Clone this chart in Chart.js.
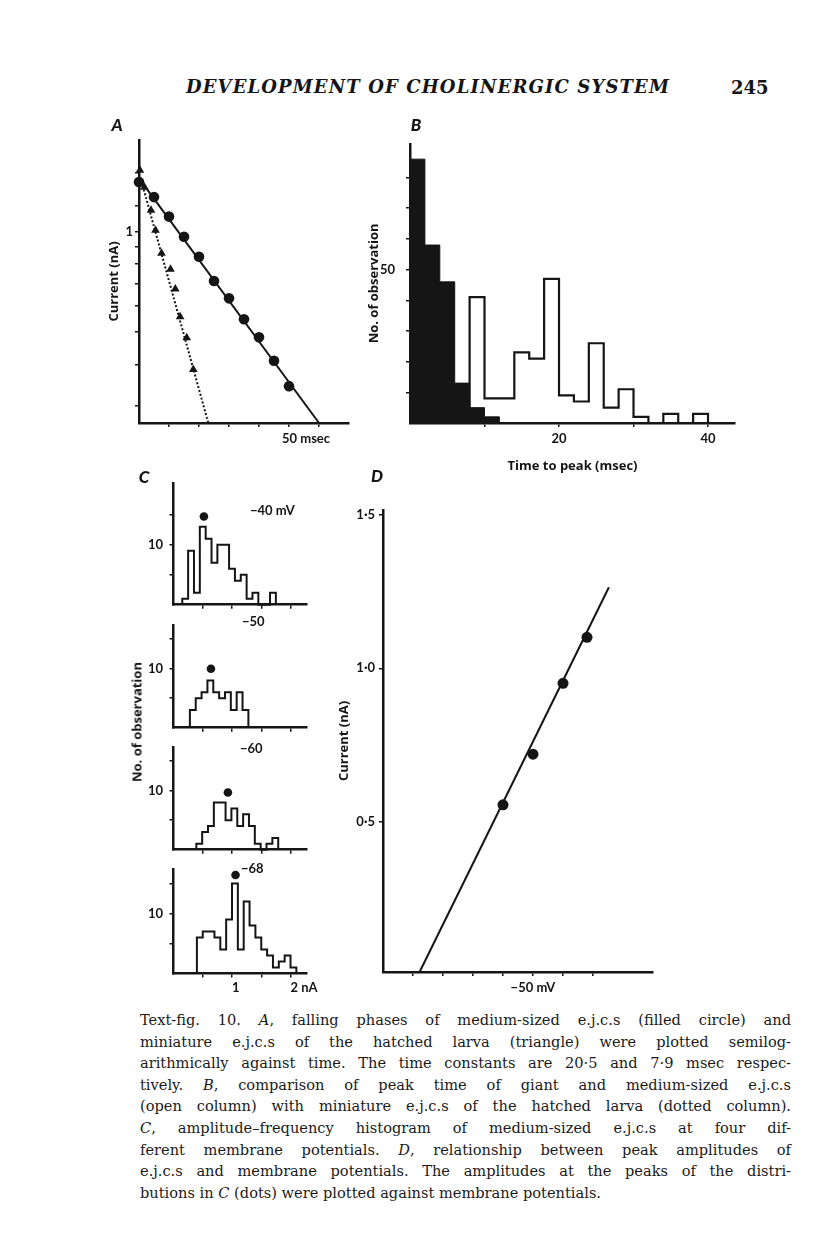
<!DOCTYPE html>
<html>
<head>
<meta charset="utf-8">
<title>Development of cholinergic system – Text-fig. 10</title>
<script src="https://cdn.jsdelivr.net/npm/chart.js@4.4.1/dist/chart.umd.min.js"></script>
<style>
  html, body { margin: 0; padding: 0; background: #fff; }
  #page { position: relative; width: 816px; height: 1238px; overflow: hidden; background: #fff; color: #151515; }
  #page canvas { position: absolute; }
  .txt { position: absolute; white-space: nowrap; line-height: 1; transform: translateY(-50%); }
  .mid { transform: translate(-50%, -50%); }
  .head { font-family: "DejaVu Serif", serif; font-style: italic; font-weight: 700; font-size: 18px; }
  .folio { font-family: "DejaVu Serif", serif; font-weight: 700; font-size: 18px; }
  .panel { font-family: Lato, sans-serif; font-style: italic; font-weight: 900; font-size: 17px; }
  .sans { font-family: Lato, sans-serif; font-weight: 700; font-size: 13px; }
  .title { font-family: "Open Sans", sans-serif; font-weight: 700; font-size: 13px; }
  .rot { transform: translate(-50%, -50%) rotate(-90deg); }
  #caption { position: absolute; left: 140px; top: 1009px; width: 651px; font-family: "DejaVu Serif", serif; font-size: 14.6px; line-height: 21.6px; color: #1a1a1a; }
  #caption div { text-align: justify; text-align-last: justify; }
  #caption div.last { text-align-last: left; }
</style>
</head>
<body>
<div id="page">
  <canvas id="chartA"></canvas>
  <canvas id="chartB"></canvas>
  <canvas id="chartC0"></canvas>
  <canvas id="chartC1"></canvas>
  <canvas id="chartC2"></canvas>
  <canvas id="chartC3"></canvas>
  <canvas id="chartD"></canvas>

  <div class="txt head" id="runhead" style="left:186px;top:87px">DEVELOPMENT OF CHOLINERGIC SYSTEM</div>
  <div class="txt folio" style="left:731px;top:88px">245</div>
  <div class="txt panel mid" style="left:117px;top:124px">A</div>
  <div class="txt panel mid" style="left:416px;top:124px">B</div>
  <div class="txt panel mid" style="left:144px;top:476px">C</div>
  <div class="txt panel mid" style="left:377px;top:475px">D</div>
  <div class="txt title rot" style="left:137px;top:722px">No. of observation</div>

  <div id="caption">
    <div>Text-fig. 10. <i>A</i>, falling phases of medium-sized e.j.c.s (filled circle) and</div>
    <div>miniature e.j.c.s of the hatched larva (triangle) were plotted semilog-</div>
    <div>arithmically against time. The time constants are 20·5 and 7·9 msec respec-</div>
    <div>tively. <i>B</i>, comparison of peak time of giant and medium-sized e.j.c.s</div>
    <div>(open column) with miniature e.j.c.s of the hatched larva (dotted column).</div>
    <div><i>C</i>, amplitude–frequency histogram of medium-sized e.j.c.s at four dif-</div>
    <div>ferent membrane potentials. <i>D</i>, relationship between peak amplitudes of</div>
    <div>e.j.c.s and membrane potentials. The amplitudes at the peaks of the distri-</div>
    <div class="last">butions in <i>C</i> (dots) were plotted against membrane potentials.</div>
  </div>
</div>

<script>
// ---- values ----

// A: falling phases, current (nA, log axis) against time (msec)
const aCircleTime = [0, 5, 10, 15, 20, 25, 30, 35, 40, 45, 50];
const aCircleCurrent = [1.41, 1.27, 1.11, 0.966, 0.841, 0.711, 0.631, 0.546, 0.482, 0.41, 0.344];
const aTriangleTime = [0.3, 1.8, 4.0, 5.5, 7.5, 10.5, 12.1, 13.7, 15.9, 18.1];
const aTriangleCurrent = [1.53, 1.36, 1.16, 1.01, 0.861, 0.771, 0.673, 0.556, 0.481, 0.386];
const aSolidFitTime = [0, 60];
const aSolidFitCurrent = [1.445, 0.2667];
const aDottedFitTime = [0.5, 23.1];
const aDottedFitCurrent = [1.45, 0.2667];
const aTimeTicks = [10, 20, 30, 40, 50, 60];
const aCurrentTicks = [0.3, 0.4, 0.5, 0.6, 0.7, 0.8, 0.9, 1, 1.2, 1.5];

// B: time to peak histograms, 2 msec bins
const bBinWidth = 2;
const bMiniatureStart = 0;
const bMiniatureCounts = [86, 58, 46, 13, 5, 2];
const bOpenStart = 8;
const bOpenCounts = [41, 8, 8, 23, 21, 47, 9, 7, 26, 5, 11, 2, 0, 3, 0, 3];
const bTimeTicks = [10, 20, 30, 40];
const bCountTicks = [10, 20, 30, 40, 50, 60, 70, 80];

// C: amplitude histograms at four membrane potentials, 0.1 nA bins
const cBinWidth = 0.1;
const cStarts = [0.15, 0.28, 0.39, 0.4];
const cCounts40 = [1, 9, 2, 13, 11, 7, 10, 10, 6, 4, 5, 1, 2, 0, 0, 2];
const cCounts50 = [3, 5, 6, 8, 6, 5, 6, 3, 6, 3];
const cCounts60 = [1, 3, 4, 8, 8, 5, 7, 4, 6, 4, 1, 0, 1, 2];
const cCounts68 = [6, 7, 7, 6, 4, 9, 15, 4, 12, 8, 6, 4, 3, 1, 2, 3, 1];
const cPeakAmplitude = [0.52, 0.64, 0.93, 1.06];
const cPeakCount = [14.7, 10, 9.7, 16.4];
const cPotentialLabels = ['−40 mV', '−50', '−60', '−68'];
const cAmpTicks = [0.5, 1, 1.5, 2];
const cCountTicks = [5, 10, 15];

// D: peak amplitude against membrane potential
const dPotential = [-40, -50, -60, -68];
const dCurrent = [0.555, 0.72, 0.951, 1.101];
const dFitPotential = [-12.2, -75.3];
const dFitCurrent = [0.01, 1.264];
const dPotentialTicks = [-10, -20, -30, -40, -50, -60, -70];
const dCurrentTicks = [0.5, 1, 1.5];

// ---- drawing ----
const INK = '#151515';
const TITLE_FONT = { family: '"Open Sans", sans-serif', size: 13, weight: 'bold' };

Chart.defaults.font.family = 'Lato, "DejaVu Sans", sans-serif';
Chart.defaults.font.size = 13;
Chart.defaults.font.weight = 'bold';
Chart.defaults.color = INK;

function place(id, left, top, width, height) {
  const canvas = document.getElementById(id);
  canvas.width = width;
  canvas.height = height;
  canvas.style.left = left + 'px';
  canvas.style.top = top + 'px';
  return canvas;
}

function points(xs, ys) {
  return xs.map(function (x, i) { return { x: x, y: ys[i] }; });
}

// outline of a histogram, values sit on the left edge of each bin
function steps(start, width, counts) {
  const pts = [{ x: start, y: 0 }];
  counts.forEach(function (n, i) { pts.push({ x: start + i * width, y: n }); });
  pts.push({ x: start + counts.length * width, y: 0 });
  return pts;
}

function pinTicks(values) {
  return function (scale) { scale.ticks = values.map(function (v) { return { value: v }; }); };
}
function labelFrom(map) {
  return function (value) { return map[value] === undefined ? '' : map[value]; };
}
function boxSize(size) {
  return function (scale) {
    if (scale.isHorizontal()) { scale.height = size; } else { scale.width = size; }
  };
}

function axis(o) {
  return {
    type: o.type || 'linear',
    min: o.min,
    max: o.max,
    reverse: !!o.reverse,
    afterFit: boxSize(o.size),
    afterBuildTicks: pinTicks(o.ticks),
    border: { display: true, color: INK, width: 2.5 },
    grid: { display: true, drawOnChartArea: false, drawTicks: true, tickLength: 4, color: INK, lineWidth: 1.5 },
    ticks: {
      autoSkip: false, maxRotation: 0, padding: o.pad,
      align: o.align || 'center', labelOffset: o.offset || 0,
      callback: labelFrom(o.labels || {})
    },
    title: o.title
      ? { display: true, text: o.title, padding: o.titlePad, font: TITLE_FONT }
      : { display: false }
  };
}

function frame(pad) {
  return {
    responsive: false,
    animation: false,
    devicePixelRatio: 1,
    layout: { padding: pad },
    plugins: { legend: { display: false }, tooltip: { enabled: false } },
    scales: {}
  };
}

// A
const optA = frame({ top: 18, right: 16, bottom: 0, left: 0 });
optA.scales.x = axis({ min: 0, max: 70, size: 37, ticks: aTimeTicks, labels: { 50: '50 msec' }, pad: 4, align: 'start', offset: -7 });
optA.scales.y = axis({ type: 'logarithmic', min: 0.2667, max: 1.884, size: 44, ticks: aCurrentTicks, labels: { 1: '1' }, pad: 2,
  title: 'Current (nA)', titlePad: { top: 11, bottom: 0 } });
new Chart(place('chartA', 95, 122, 270, 338), {
  type: 'scatter',
  data: {
    datasets: [
      { data: points(aSolidFitTime, aSolidFitCurrent), showLine: true, borderColor: INK, borderWidth: 2, pointRadius: 0, clip: false },
      { data: points(aDottedFitTime, aDottedFitCurrent), showLine: true, borderColor: INK, borderWidth: 2, borderDash: [2, 2], pointRadius: 0, clip: false },
      { data: points(aCircleTime, aCircleCurrent), pointStyle: 'circle', pointRadius: 5.3, backgroundColor: INK, borderWidth: 0, clip: false },
      { data: points(aTriangleTime, aTriangleCurrent), pointStyle: 'triangle', pointRadius: 5, backgroundColor: INK, borderWidth: 0, clip: false }
    ]
  },
  options: optA
});

// B
const optB = frame({ top: 18, right: 20, bottom: 0, left: 0 });
optB.scales.x = axis({ min: 0, max: 43.62, size: 57, ticks: bTimeTicks, labels: { 20: '20', 40: '40' }, pad: 4,
  title: 'Time to peak (msec)', titlePad: { top: 0, bottom: 6.2 } });
optB.scales.y = axis({ min: 0, max: 91, size: 50, ticks: bCountTicks, labels: { 50: '50' }, pad: 11,
  title: 'No. of observation', titlePad: { top: 6.2, bottom: 0 } });
new Chart(place('chartB', 360, 125, 395, 355), {
  type: 'scatter',
  data: {
    datasets: [
      { data: steps(bMiniatureStart, bBinWidth, bMiniatureCounts), showLine: true, stepped: true, fill: 'origin',
        backgroundColor: INK, borderColor: INK, borderWidth: 1, pointRadius: 0, clip: false },
      { data: steps(bOpenStart, bBinWidth, bOpenCounts), showLine: true, stepped: true, fill: false,
        borderColor: INK, borderWidth: 2.2, pointRadius: 0, clip: false }
    ]
  },
  options: optB
});

// C: four small histograms stacked
const cCounts = [cCounts40, cCounts50, cCounts60, cCounts68];
const cRows = [
  { top: 468, padTop: 15, height: 151, xSize: 12, max: 20.3 },
  { top: 610, padTop: 15, height: 132, xSize: 12.5, max: 17.4 },
  { top: 732, padTop: 15, height: 132, xSize: 12, max: 17.4 },
  { top: 854, padTop: 15, height: 146, xSize: 26.5, max: 17.4 }
];
const cLabelSpots = [[250, 510], [242, 621], [240, 748], [241, 868]];

cRows.forEach(function (row, k) {
  const last = k === cRows.length - 1;
  const opt = frame({ top: row.padTop, right: 23.7, bottom: 0, left: 0 });
  opt.scales.x = axis({ min: 0, max: 2.27, size: row.xSize, ticks: cAmpTicks,
    labels: last ? { 1: '1', 2: '2 nA' } : {}, pad: 2.5, align: 'start' });
  opt.scales.y = axis({ min: 0, max: row.max, size: 48.5, ticks: cCountTicks, labels: { 10: '10' }, pad: 6.5 });
  new Chart(place('chartC' + k, 125, row.top, 205, row.height), {
    type: 'scatter',
    data: {
      datasets: [
        { data: steps(cStarts[k], cBinWidth, cCounts[k]), showLine: true, stepped: true, fill: false,
          borderColor: INK, borderWidth: 2, pointRadius: 0, clip: false },
        { data: [{ x: cPeakAmplitude[k], y: cPeakCount[k] }], pointStyle: 'circle', pointRadius: 4.3,
          backgroundColor: INK, borderWidth: 0, clip: false }
      ]
    },
    options: opt
  });

  const tag = document.createElement('div');
  tag.className = 'txt sans';
  tag.style.left = cLabelSpots[k][0] + 'px';
  tag.style.top = cLabelSpots[k][1] + 'px';
  tag.textContent = cPotentialLabels[k];
  document.getElementById('page').appendChild(tag);
});

// D
const optD = frame({ top: 20, right: 17, bottom: 0, left: 0 });
optD.scales.x = axis({ min: -90, max: 0, reverse: true, size: 33, ticks: dPotentialTicks, labels: { '-50': '−50 mV' }, pad: 4.2 });
optD.scales.y = axis({ min: 0.01, max: 1.516, size: 58, ticks: dCurrentTicks, labels: { 0.5: '0·5', 1: '1·0', 1.5: '1·5' }, pad: 4,
  title: 'Current (nA)', titlePad: { top: 11.2, bottom: 0 } });
new Chart(place('chartD', 325, 490, 345, 515), {
  type: 'scatter',
  data: {
    datasets: [
      { data: points(dFitPotential, dFitCurrent), showLine: true, borderColor: INK, borderWidth: 2, pointRadius: 0, clip: false },
      { data: points(dPotential, dCurrent), pointStyle: 'circle', pointRadius: 5.5, backgroundColor: INK, borderWidth: 0, clip: false }
    ]
  },
  options: optD
});

// stretch the running head to the printed width
const head = document.getElementById('runhead');
const natural = head.getBoundingClientRect().width;
head.style.letterSpacing = ((484 - natural) / head.textContent.length) + 'px';
</script>
</body>
</html>
